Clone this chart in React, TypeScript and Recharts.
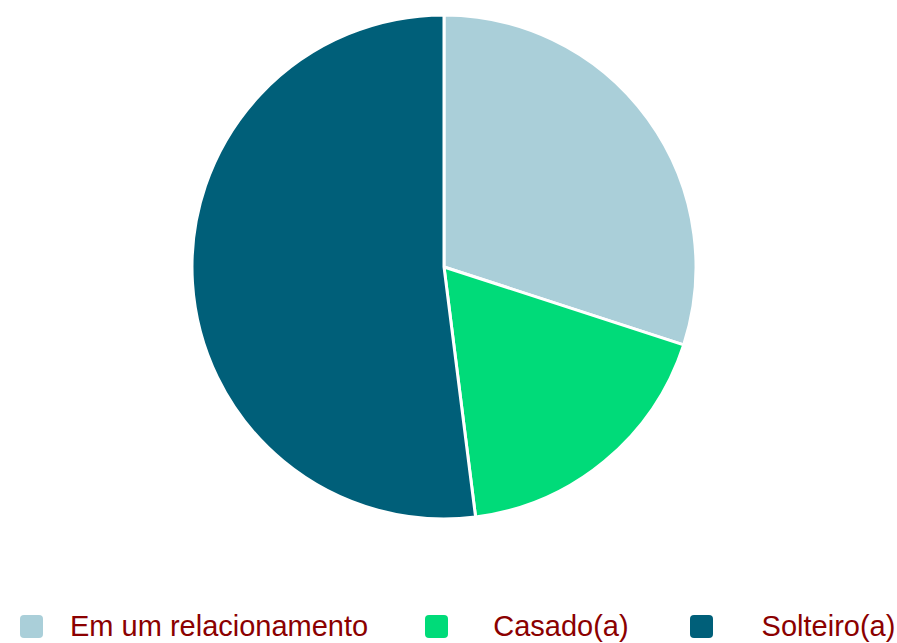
import { PieChart, Pie, Cell, Legend } from "recharts";

const LABELS = ["Em um relacionamento", "Casado(a)", "Solteiro(a)"];
const VALUES = [30, 18, 52];
const COLORS = ["#AACFD9", "#00DB79", "#005F79"];

const data = LABELS.map((name, i) => ({ name, value: VALUES[i] }));

// legend spacing: swatch -> label, label -> next swatch
const SWATCH_GAP = [27, 45, 49];
const ITEM_GAP = [57, 61, 0];

function LegendRow() {
  return (
    <div style={{ display: "flex", alignItems: "center", paddingLeft: 20, fontFamily: "'Liberation Sans', Arial, sans-serif" }}>
      {LABELS.map((label, i) => (
        <div key={label} style={{ display: "flex", alignItems: "center", marginRight: ITEM_GAP[i] }}>
          <span style={{ width: 23, height: 23, borderRadius: 4, background: COLORS[i], display: "inline-block", marginRight: SWATCH_GAP[i], flexShrink: 0 }} />
          <span style={{ color: "#8B0000", fontSize: 29, lineHeight: "32px", whiteSpace: "nowrap" }}>{label}</span>
        </div>
      ))}
    </div>
  );
}

export default function App() {
  return (
    <div style={{ position: "absolute", left: 0, top: 0, background: "#fff" }}>
      <PieChart width={897} height={643} margin={{ top: 0, right: 0, bottom: 0, left: 0 }}>
        <Pie
          data={data}
          dataKey="value"
          nameKey="name"
          cx={444}
          cy={267}
          outerRadius={252}
          startAngle={90}
          endAngle={-270}
          stroke="#ffffff"
          strokeWidth={3}
          isAnimationActive={false}
        >
          {data.map((d, i) => (
            <Cell key={d.name} fill={COLORS[i]} />
          ))}
        </Pie>
        <Legend content={<LegendRow />} wrapperStyle={{ left: 0, top: 610, width: 897 }} />
      </PieChart>
    </div>
  );
}
